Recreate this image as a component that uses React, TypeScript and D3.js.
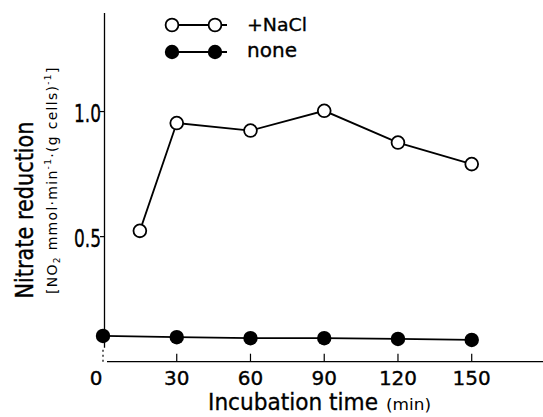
import React from "react";
import * as d3 from "d3";

const W = 543;
const H = 417;
const MARGIN = { top: 13, right: 0, bottom: 55, left: 103 };

// data
const times = [0, 30, 60, 90, 120, 150];
const naclTimes = [15, 30, 60, 90, 120, 150];
const naclValues = [0.523, 0.954, 0.924, 1.003, 0.876, 0.79];
const noneValues = [0.103, 0.098, 0.094, 0.094, 0.091, 0.087];
const xTicks = [0, 30, 60, 90, 120, 150];
const yTicks = [0.5, 1.0];

const FONT = "'DejaVu Sans', sans-serif";

const App = () => {
  const boundsWidth = W - MARGIN.left - MARGIN.right;
  const boundsHeight = H - MARGIN.top - MARGIN.bottom - 0.3;

  const xScale = d3.scaleLinear().domain([0, 179]).range([0, boundsWidth]);
  const yScale = d3.scaleLinear().domain([0, 1.394]).range([boundsHeight, 0]);

  const line = d3
    .line<[number, number]>()
    .x((d) => xScale(d[0]))
    .y((d) => yScale(d[1]));

  const nacl = naclTimes.map((t, i) => [t, naclValues[i]] as [number, number]);
  const none = times.map((t, i) => [t, noneValues[i]] as [number, number]);

  const r = 7.2;

  return (
    <svg width={W} height={H} style={{ position: "absolute", left: 0, top: 0 }}>
      <g transform={`translate(${MARGIN.left},${MARGIN.top})`} fill="none" stroke="#000">
        {/* axes */}
        <line x1={1.5} x2={1.5} y1={0} y2={boundsHeight - 14} strokeWidth={1.3} />
        <line x1={4} x2={boundsWidth} y1={boundsHeight} y2={boundsHeight} strokeWidth={1.3} />
        {xTicks.map((t) => (
          <line
            key={t}
            x1={xScale(t)}
            x2={xScale(t)}
            y1={boundsHeight}
            y2={boundsHeight - (t === 0 ? 14 : 8)}
            strokeWidth={1.2}
            strokeDasharray={t === 0 ? "2,3" : undefined}
          />
        ))}
        {yTicks.map((t) => (
          <line key={t} x1={-3} x2={1.5} y1={yScale(t)} y2={yScale(t)} strokeWidth={1.2} />
        ))}

        {/* series */}
        <path d={line(nacl) || ""} strokeWidth={1.8} />
        <path d={line(none) || ""} strokeWidth={1.8} />
        {nacl.map((d, i) => (
          <circle key={"n" + i} cx={xScale(d[0])} cy={yScale(d[1])} r={r - 0.8} fill="#fff" strokeWidth={1.8} />
        ))}
        {none.map((d, i) => (
          <circle key={"z" + i} cx={xScale(d[0])} cy={yScale(d[1])} r={r} fill="#000" stroke="none" />
        ))}

        {/* tick labels */}
        <g fill="#000" stroke="#000" strokeWidth={0.35} fontFamily={FONT} fontSize={20}>
          {xTicks.map((t) => (
            <text key={t} x={xScale(t) - (t === 0 ? 7 : 0)} y={boundsHeight + 23} textAnchor="middle">
              {t}
            </text>
          ))}
          {yTicks.map((t) => (
            <text
              key={t}
              x={-29}
              y={yScale(t) + 10}
              fontSize={24}
              textLength={27}
              lengthAdjust="spacingAndGlyphs"
            >
              {t.toFixed(1)}
            </text>
          ))}
        </g>
      </g>

      {/* legend */}
      <g stroke="#000" fill="none">
        <line x1={165} x2={227} y1={25} y2={25} strokeWidth={1.8} />
        <circle cx={172} cy={25} r={6.4} fill="#fff" strokeWidth={1.8} />
        <circle cx={215} cy={25} r={6.4} fill="#fff" strokeWidth={1.8} />
        <line x1={165} x2={227} y1={52} y2={52} strokeWidth={1.8} />
        <circle cx={172} cy={52} r={7.2} fill="#000" stroke="none" />
        <circle cx={215} cy={52} r={7.2} fill="#000" stroke="none" />
      </g>
      <g fontFamily={FONT} fill="#000" stroke="#000" strokeWidth={0.35}>
        <text x={247} y={31} fontSize={18} textLength={60} lengthAdjust="spacingAndGlyphs">
          +NaCl
        </text>
        <text x={247} y={57} fontSize={20} textLength={50} lengthAdjust="spacingAndGlyphs">
          none
        </text>
      </g>

      {/* axis titles */}
      <g fontFamily={FONT} fill="#000">
        <text
          x={208}
          y={410}
          fontSize={23}
          textLength={170}
          lengthAdjust="spacingAndGlyphs"
          stroke="#000"
          strokeWidth={0.35}
        >
          Incubation time
        </text>
        <text x={386} y={410} fontSize={16} textLength={45} lengthAdjust="spacingAndGlyphs">
          (min)
        </text>
        <text
          transform="translate(33,210) rotate(-90)"
          textAnchor="middle"
          fontSize={25}
          textLength={177}
          lengthAdjust="spacingAndGlyphs"
          stroke="#000"
          strokeWidth={0.4}
        >
          Nitrate reduction
        </text>
        <text transform="translate(57,294) rotate(-90)" fontSize={14} letterSpacing={1.3}>
          [NO<tspan fontSize={9} dy={3}>2</tspan>
          <tspan dy={-3}> mmol·min</tspan>
          <tspan fontSize={9} dy={-6}>-1</tspan>
          <tspan dy={6}>·(g cells)</tspan>
          <tspan fontSize={9} dy={-6}>-1</tspan>
          <tspan dy={6}>]</tspan>
        </text>
      </g>
    </svg>
  );
};

export default App;
